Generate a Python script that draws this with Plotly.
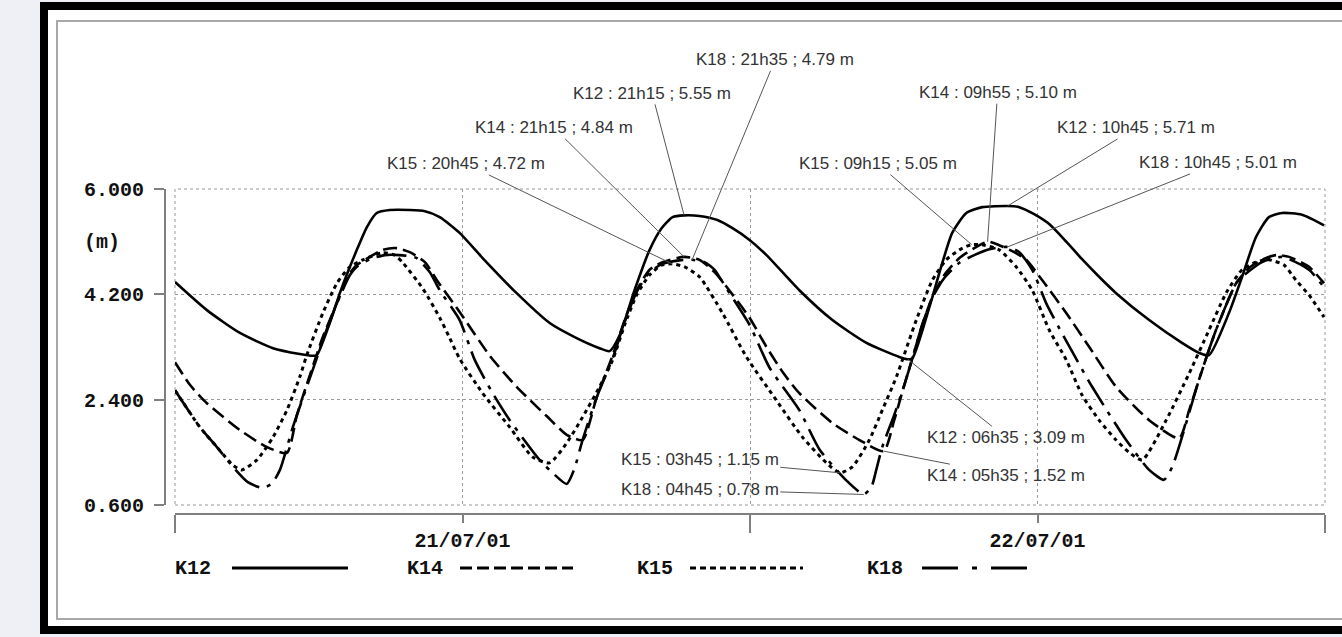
import plotly.graph_objects as go

# ---------------- data (hours since 21/07/01 00:00, water level in m) -------------
K12_t = [0, 1.33, 2.71, 4.09, 5.21, 5.75, 5.92, 6.46, 6.88, 7.30, 7.59, 8.01, 8.42, 8.97, 9.80, 10.43,
         11.05, 11.88, 12.84, 14.26, 15.64, 16.68, 17.72, 18.14, 18.56, 19.18, 19.81, 20.31, 20.77,
         21.25, 21.89, 22.64, 23.27, 23.98, 24.69, 26.06, 27.44, 28.86, 30.23, 30.58, 30.78, 31.07,
         31.61, 32.03, 32.44, 33.03, 33.69, 34.75, 35.24, 35.86, 36.49, 37.20, 37.86, 38.57, 39.28,
         40.66, 42.03, 42.74, 43.16, 43.99, 44.54, 45.12, 45.66, 46.21, 47.04, 47.96]
K12_v = [4.41, 3.93, 3.54, 3.28, 3.18, 3.15, 3.16, 3.71, 4.22, 4.67, 4.96, 5.35, 5.59, 5.64, 5.64, 5.62,
         5.52, 5.25, 4.82, 4.22, 3.71, 3.47, 3.28, 3.23, 3.50, 4.27, 4.96, 5.33, 5.52,
         5.55, 5.54, 5.47, 5.33, 5.13, 4.87, 4.27, 3.76, 3.37, 3.13, 3.09, 3.11, 3.42,
         4.15, 4.74, 5.25, 5.59, 5.69, 5.71, 5.69, 5.57, 5.40, 5.10, 4.80, 4.50, 4.22,
         3.76, 3.37, 3.20, 3.16, 3.88, 4.50, 5.18, 5.52, 5.59, 5.56, 5.38]

K14_t = [0, 0.63, 1.33, 2.71, 3.84, 4.67, 5.09, 5.63, 6.17, 6.76, 7.30, 7.59, 8.13, 8.67, 9.26, 9.80,
         10.43, 10.93, 11.88, 13.14, 14.26, 15.51, 16.35, 17.01, 17.60, 18.27, 18.77, 19.27, 19.81,
         20.35, 21.25, 21.89, 22.52, 23.02, 23.98, 24.69, 25.40, 26.06, 27.44, 28.57, 29.58, 30.02,
         30.44, 30.78, 31.19, 31.61, 32.11, 32.74, 33.36, 33.92, 34.40, 35.03, 35.53, 36.20, 37.20,
         38.16, 39.28, 40.66, 41.91, 42.33, 42.74, 43.45, 44.29, 44.83, 45.37, 45.95, 46.50, 47.33, 47.96]
K14_v = [3.04, 2.65, 2.34, 1.88, 1.59, 1.49, 2.14, 2.82, 3.47, 4.05, 4.56, 4.70, 4.84, 4.96, 4.99, 4.92,
         4.75, 4.44, 3.90, 3.15, 2.62, 2.12, 1.80, 1.71, 2.44, 3.16, 3.76, 4.27, 4.62,
         4.75, 4.84, 4.79, 4.58, 4.33, 3.80, 3.30, 2.85, 2.51, 2.00, 1.71, 1.52, 2.05,
         2.65, 3.11, 3.68, 4.15, 4.53, 4.82, 4.99, 5.10, 5.04, 4.92, 4.79, 4.44, 3.88,
         3.30, 2.62, 2.05, 1.74, 2.22, 2.74, 3.59, 4.39, 4.65, 4.79, 4.87, 4.84, 4.67, 4.39]

K15_t = [0, 1.04, 1.75, 2.42, 2.79, 3.42, 4.09, 4.67, 5.21, 5.50, 6.17, 6.76, 7.30, 7.84, 8.67, 9.17,
         9.51, 10.34, 11.05, 11.47, 11.88, 12.84, 13.97, 14.93, 15.64, 16.35, 17.01, 17.72, 18.27,
         18.77, 19.27, 19.81, 20.31, 20.75, 21.27, 21.89, 22.85, 23.85, 25.10, 26.19, 27.19, 27.75,
         28.27, 28.98, 29.52, 30.11, 30.94, 31.61, 32.19, 32.74, 33.25, 33.78, 34.40, 35.11, 35.78,
         36.49, 37.20, 37.86, 38.57, 39.28, 39.82, 40.37, 41.37, 42.33, 43.16, 43.87, 44.54, 45.12,
         45.66, 46.29, 46.79, 47.33, 47.96]
K15_v = [2.56, 1.93, 1.59, 1.28, 1.20, 1.37, 1.76, 2.22, 2.79, 3.16, 3.88, 4.39, 4.67, 4.79, 4.91, 4.87,
         4.74, 4.30, 3.80, 3.45, 3.10, 2.51, 1.93, 1.42, 1.32, 1.66, 2.10, 2.62, 3.08,
         3.68, 4.19, 4.53, 4.70, 4.72, 4.67, 4.50, 3.88, 3.13, 2.39, 1.76, 1.32, 1.15,
         1.25, 1.71, 2.22, 2.79, 3.76, 4.44, 4.79, 4.96, 5.05, 5.04, 4.96, 4.67, 4.27,
         3.59, 3.08, 2.48, 2.05, 1.71, 1.50, 1.37, 2.05, 2.85, 3.59, 4.22, 4.62, 4.75,
         4.79, 4.70, 4.44, 4.19, 3.81]

K18_t = [0, 1.04, 1.75, 2.42, 3.04, 3.67, 4.05, 4.38, 4.92, 5.50, 5.92, 6.17, 6.76, 7.30, 7.59, 8.13,
         8.76, 9.38, 9.80, 10.09, 10.63, 11.05, 11.88, 12.51, 13.26, 13.97, 15.22, 15.76, 16.35,
         16.68, 17.01, 17.60, 18.27, 18.77, 19.27, 19.81, 20.35, 21.06, 21.58, 22.10, 22.52, 23.02,
         23.98, 24.81, 26.06, 26.90, 28.02, 28.75, 29.07, 29.27, 29.52, 30.02, 30.44, 30.78, 31.19,
         31.61, 32.11, 32.74, 33.36, 33.99, 34.75, 35.24, 35.78, 36.36, 36.91, 37.53, 38.28, 39.70,
         40.66, 41.28, 41.62, 42.03, 42.74, 43.45, 44.29, 44.54, 45.37, 46.21, 47.33, 47.96]
K18_v = [2.56, 1.93, 1.59, 1.25, 0.99, 0.89, 0.97, 1.20, 1.93, 2.62, 3.11, 3.42, 4.05, 4.53, 4.67, 4.80,
         4.87, 4.87, 4.85, 4.82, 4.58, 4.27, 3.76, 3.08, 2.51, 2.05, 1.37, 1.15, 0.96,
         1.23, 1.71, 2.44, 3.11, 3.73, 4.24, 4.58, 4.72, 4.78, 4.79, 4.75, 4.62, 4.30,
         3.68, 2.95, 2.22, 1.55, 1.02, 0.78, 0.91, 1.20, 1.59, 2.14, 2.65, 3.11, 3.68,
         4.14, 4.48, 4.74, 4.87, 4.97, 5.01, 4.92, 4.62, 4.05, 3.62, 3.16, 2.62, 1.71,
         1.20, 1.03, 1.25, 1.76, 2.74, 3.59, 4.39, 4.50, 4.75, 4.84, 4.62, 4.32]

series_names = ["K12", "K14", "K15", "K18"]
day_labels = ["21/07/01", "22/07/01"]
y_ticks = [0.6, 2.4, 4.2, 6.0]

# annotated extremes: series, day index, time label, value
ann_series = ["K18", "K12", "K14", "K15", "K14", "K12", "K15", "K18", "K15", "K18", "K12", "K14"]
ann_day = [0, 0, 0, 0, 1, 1, 1, 1, 1, 1, 1, 1]
ann_time = ["21h35", "21h15", "21h15", "20h45", "09h55", "10h45", "09h15", "10h45",
            "03h45", "04h45", "06h35", "05h35"]
ann_value = [4.79, 5.55, 4.84, 4.72, 5.10, 5.71, 5.05, 5.01, 1.15, 0.78, 3.09, 1.52]

# ---------------- layout helpers (pixel -> paper) ----------------
W, H = 1342, 637
L, R, T, B = 165, 1325, 189, 514
def PX(x): return (x - L) / (R - L)
def PY(y): return (B - y) / (B - T)

MONO = "Liberation Mono, Courier New, monospace"
SANS = "Liberation Sans, Arial, sans-serif"

styles = {
    "K12": dict(color="black", width=2.6, dash="solid"),
    "K14": dict(color="black", width=2.6, dash="14px,6px"),
    "K15": dict(color="black", width=3, dash="4px,4px"),
    "K18": dict(color="black", width=2.6, dash="30px,8px,4px,8px"),
}
legend_dash = {"K12": "solid", "K14": "12px,5px", "K15": "6px,4px", "K18": "36px,14px,5px,14px"}
data_map = {"K12": (K12_t, K12_v), "K14": (K14_t, K14_v), "K15": (K15_t, K15_v), "K18": (K18_t, K18_v)}

fig = go.Figure()
for name in series_names:
    t, v = data_map[name]
    fig.add_trace(go.Scatter(x=t, y=v, mode="lines", name=name,
                             line=dict(shape="spline", smoothing=0.6, **styles[name]),
                             showlegend=False, hoverinfo="skip"))

# annotation text offsets (pixels)
ann_offsets = [(83, -200), (-32, -122), (-130, -129), (-206, -100), (10, -149), (128, -78),
               (-94, -81), (210, -84), (-140, -13), (-164, -5), (98, 78), (122, 24)]
annotations = []
for s, d, tl, val, (ax, ay) in zip(ann_series, ann_day, ann_time, ann_value, ann_offsets):
    hh, mm = tl.split("h")
    tt = 24 * d + int(hh) + int(mm) / 60
    annotations.append(dict(x=tt, y=val, xref="x", yref="y", ax=ax, ay=ay,
                            text=f"{s} : {tl} ; {val:.2f} m", showarrow=True, arrowhead=0,
                            arrowwidth=1, arrowcolor="#555", standoff=0, startstandoff=0,
                            font=dict(family=SANS, size=17, color="#333")))

annotations.append(dict(x=PX(102), y=PY(242), xref="paper", yref="paper", text="(m)",
                        xanchor="center", yanchor="middle", showarrow=False,
                        font=dict(family=MONO, size=20, color="#111", weight="bold")))

# legend (text + sample lines)
leg_text_x = [173, 405, 635, 865]
leg_line_x = [(232, 348), (460, 573), (690, 803), (922, 1029)]
leg_y = 568
shapes = [
    dict(type="rect", xref="paper", yref="paper", x0=PX(40), x1=PX(1400), y0=PY(634), y1=PY(2),
         fillcolor="black", line=dict(width=0), layer="below"),
    dict(type="rect", xref="paper", yref="paper", x0=PX(48), x1=PX(1400), y0=PY(626), y1=PY(10),
         fillcolor="white", line=dict(width=0), layer="below"),
    dict(type="rect", xref="paper", yref="paper", x0=PX(57), x1=PX(1400), y0=PY(619), y1=PY(21),
         fillcolor="rgba(0,0,0,0)", line=dict(width=2, color="#a8a8a8"), layer="below"),
    # dotted frame of the plotting area (grid at the range limits)
    dict(type="rect", xref="x domain", yref="y domain", x0=0, x1=1, y0=0, y1=1,
         fillcolor="rgba(0,0,0,0)", line=dict(width=1, color="#9a9a9a", dash="dot"), layer="below"),
]
for name, tx, (x0, x1) in zip(series_names, leg_text_x, leg_line_x):
    annotations.append(dict(x=PX(tx), y=PY(leg_y), xref="paper", yref="paper", text=name,
                            xanchor="left", yanchor="middle", showarrow=False,
                            font=dict(family=MONO, size=20, color="#111", weight="bold")))
    shapes.append(dict(type="line", xref="paper", yref="paper", x0=PX(x0), x1=PX(x1),
                       y0=PY(leg_y), y1=PY(leg_y),
                       line=dict(color="black", width=3, dash=legend_dash[name])))

fig.update_layout(
    width=W, height=H, autosize=False,
    margin=dict(l=L, r=W - R, t=T, b=H - B, pad=0),
    paper_bgcolor="#eef0f5", plot_bgcolor="rgba(0,0,0,0)",
    annotations=annotations, shapes=shapes, hovermode=False,
    xaxis=dict(domain=[PX(175), 1], range=[0, 48], anchor="free", position=0,
               showline=True, linecolor="#808080", linewidth=2,
               ticks="outside", ticklen=8, tickwidth=2, tickcolor="#808080",
               tickvals=[12, 36], ticktext=day_labels,
               tickfont=dict(family=MONO, size=20, color="#111", weight="bold"),
               showgrid=True, gridcolor="#9a9a9a", griddash="dot", gridwidth=1, zeroline=False,
               minor=dict(tickvals=[0, 24, 48], ticks="outside", ticklen=18, tickwidth=2,
                          tickcolor="#808080", showgrid=True, gridcolor="#9a9a9a",
                          griddash="dot", gridwidth=1)),
    yaxis=dict(domain=[PY(505), 1], range=[0.6, 6.0], anchor="free", position=0,
               showline=True, linecolor="#808080", linewidth=2,
               ticks="outside", ticklen=10, tickwidth=2, tickcolor="#808080",
               tickvals=y_ticks, tickformat=".3f", ticklabelstandoff=6,
               tickfont=dict(family=MONO, size=20, color="#111", weight="bold"),
               showgrid=True, gridcolor="#9a9a9a", griddash="dot", gridwidth=1, zeroline=False),
)

fig.write_html("out.html", config={"displayModeBar": False, "staticPlot": True},
               post_script="document.body.style.margin='0';document.body.style.background='#eef0f5';")
